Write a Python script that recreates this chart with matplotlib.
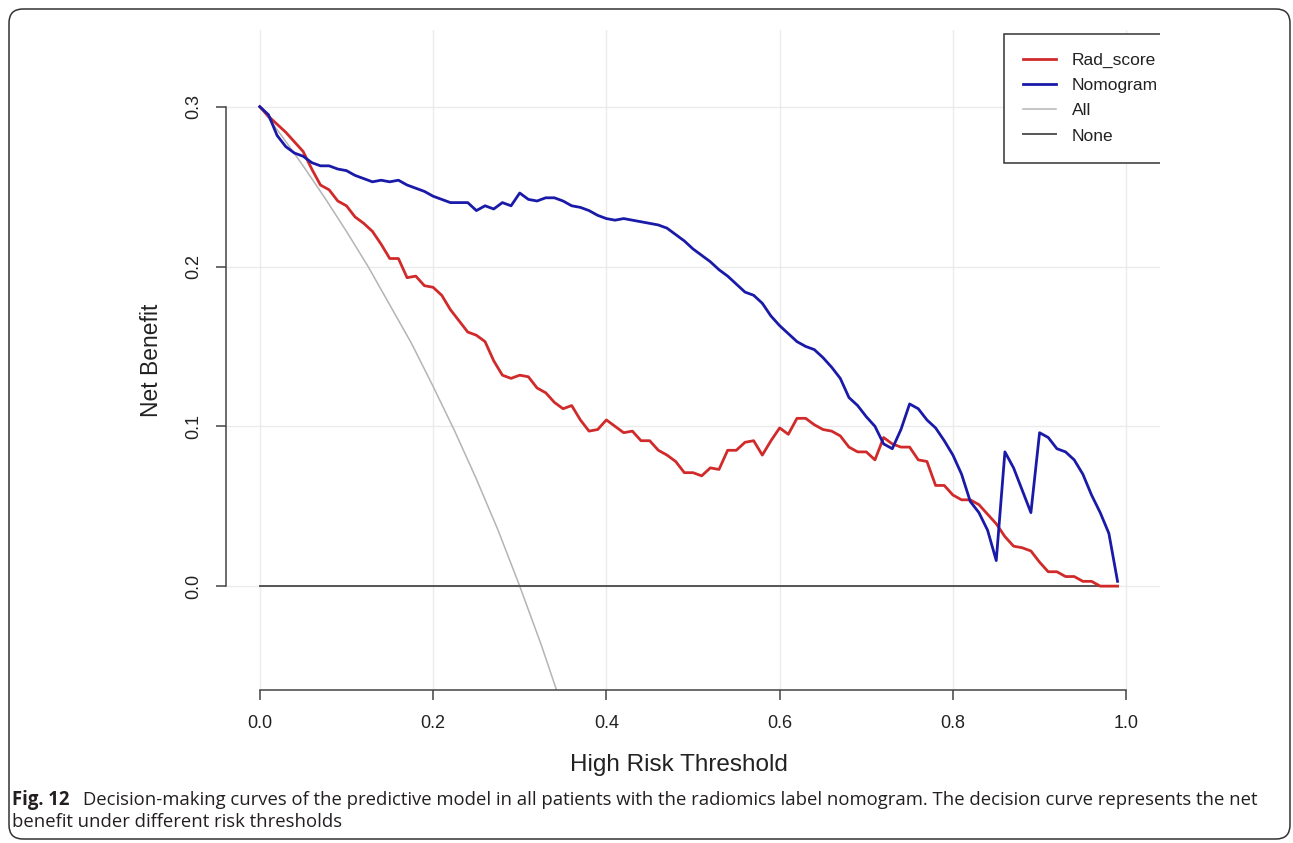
import numpy as np
import matplotlib
matplotlib.use("Agg")
import matplotlib.pyplot as plt
from matplotlib.patches import FancyBboxPatch
from matplotlib.transforms import IdentityTransform

plt.rcParams["font.family"] = ["Liberation Sans", "DejaVu Sans"]

# thresholds 0.00 .. 0.99
thresholds = np.round(np.arange(100) * 0.01, 2)

rad_score = [
    0.300, 0.294, 0.289, 0.284, 0.278, 0.272, 0.261, 0.251, 0.248, 0.241,
    0.238, 0.231, 0.227, 0.222, 0.214, 0.205, 0.205, 0.193, 0.194, 0.188,
    0.187, 0.182, 0.173, 0.166, 0.159, 0.157, 0.153, 0.141, 0.132, 0.130,
    0.132, 0.131, 0.124, 0.121, 0.115, 0.111, 0.113, 0.104, 0.097, 0.098,
    0.104, 0.100, 0.096, 0.097, 0.091, 0.091, 0.085, 0.082, 0.078, 0.071,
    0.071, 0.069, 0.074, 0.073, 0.085, 0.085, 0.090, 0.091, 0.082, 0.091,
    0.099, 0.095, 0.105, 0.105, 0.101, 0.098, 0.097, 0.094, 0.087, 0.084,
    0.084, 0.079, 0.093, 0.089, 0.087, 0.087, 0.079, 0.078, 0.063, 0.063,
    0.057, 0.054, 0.054, 0.051, 0.045, 0.039, 0.031, 0.025, 0.024, 0.022,
    0.015, 0.009, 0.009, 0.006, 0.006, 0.003, 0.003, 0.000, 0.000, 0.000,
]

nomogram = [
    0.300, 0.295, 0.282, 0.275, 0.271, 0.269, 0.265, 0.263, 0.263, 0.261,
    0.260, 0.257, 0.255, 0.253, 0.254, 0.253, 0.254, 0.251, 0.249, 0.247,
    0.244, 0.242, 0.240, 0.240, 0.240, 0.235, 0.238, 0.236, 0.240, 0.238,
    0.246, 0.242, 0.241, 0.243, 0.243, 0.241, 0.238, 0.237, 0.235, 0.232,
    0.230, 0.229, 0.230, 0.229, 0.228, 0.227, 0.226, 0.224, 0.220, 0.216,
    0.211, 0.207, 0.203, 0.198, 0.194, 0.189, 0.184, 0.182, 0.177, 0.169,
    0.163, 0.158, 0.153, 0.150, 0.148, 0.143, 0.137, 0.130, 0.118, 0.113,
    0.106, 0.100, 0.089, 0.086, 0.098, 0.114, 0.111, 0.104, 0.099, 0.091,
    0.082, 0.070, 0.053, 0.046, 0.035, 0.016, 0.084, 0.074, 0.060, 0.046,
    0.096, 0.093, 0.086, 0.084, 0.079, 0.070, 0.057, 0.046, 0.033, 0.003,
]

# "All" curve
all_t = [0.0, 0.025, 0.05, 0.075, 0.1, 0.125, 0.15, 0.175, 0.2, 0.225,
         0.25, 0.275, 0.3, 0.325, 0.35]
all_nb = [0.300, 0.282, 0.263, 0.243, 0.222, 0.200, 0.176, 0.152, 0.125,
          0.097, 0.067, 0.035, 0.000, -0.037, -0.077]

none_t = [0.0, 0.99]
none_nb = [0.0, 0.0]

x_ticks = [0.0, 0.2, 0.4, 0.6, 0.8, 1.0]
y_ticks = [0.0, 0.1, 0.2, 0.3]

W, H = 1293, 843
fig = plt.figure(figsize=(W / 100, H / 100), dpi=100)
ax = fig.add_axes([226 / W, 1 - 690 / H, (1160 - 226) / W, (690 - 30) / H])

ax.set_xlim(-0.039, 1.039)
ax.set_ylim(-0.065, 0.348)

ax.grid(True, color="#ebebeb", linewidth=1.0)
ax.set_axisbelow(True)

ax.plot(all_t, all_nb, color="#b4b4b4", linewidth=1.1, label="All")
ax.plot(none_t, none_nb, color="#555555", linewidth=1.4, label="None")
ax.plot(thresholds, rad_score, color="#d02a2a", linewidth=2.0, label="Rad_score")
ax.plot(thresholds, nomogram, color="#1a1aa8", linewidth=2.0, label="Nomogram")

for s in ["top", "right"]:
    ax.spines[s].set_visible(False)
for s in ["left", "bottom"]:
    ax.spines[s].set_color("#444444")
    ax.spines[s].set_linewidth(1.1)
ax.spines["left"].set_bounds(0, 0.3)
ax.spines["bottom"].set_bounds(0, 1.0)

ax.set_xticks(x_ticks)
ax.set_xticklabels(["%.1f" % v for v in x_ticks])
ax.set_yticks(y_ticks)
ax.set_yticklabels(["%.1f" % v for v in y_ticks], rotation=90, va="center")
ax.tick_params(axis="both", length=7, width=1.1, color="#444444",
               labelsize=13, labelcolor="#222222")
ax.tick_params(axis="x", pad=11)
ax.tick_params(axis="y", pad=10)

fig.text(679 / W, 1 - 765 / H, "High Risk Threshold", ha="center", va="center",
         fontsize=17.5, color="#222222")
fig.text(152 / W, 1 - 360 / H, "Net Benefit", ha="center", va="center",
         rotation=90, fontsize=16.5, color="#222222")

handles, labels = ax.get_legend_handles_labels()
order = [labels.index(n) for n in ["Rad_score", "Nomogram", "All", "None"]]
leg = ax.legend([handles[i] for i in order], [labels[i] for i in order],
                loc="upper left", bbox_to_anchor=(1004 / W, 1 - 34 / H),
                bbox_transform=fig.transFigure, fontsize=12.5, frameon=True,
                fancybox=False, framealpha=1, borderaxespad=0, borderpad=1.1,
                handlelength=1.9, handletextpad=0.9, labelspacing=0.57)
leg.get_frame().set_edgecolor("#333333")
leg.get_frame().set_linewidth(1.1)
leg.get_frame().set_clip_box(ax.bbox)
leg.get_frame().set_clip_on(True)
for t in leg.get_texts():
    t.set_color("#222222")

# caption
cap_font = ["Open Sans", "DejaVu Sans"]
fig.text(12 / W, 1 - 800 / H, "Fig. 12", ha="left", va="center",
         fontsize=13.35, fontweight="bold", family=cap_font, color="#231f20")
fig.text(83 / W, 1 - 800 / H,
         "Decision-making curves of the predictive model in all patients with the "
         "radiomics label nomogram. The decision curve represents the net",
         ha="left", va="center", fontsize=13.35, family=cap_font, color="#231f20")
fig.text(12 / W, 1 - 822 / H, "benefit under different risk thresholds",
         ha="left", va="center", fontsize=13.35, family=cap_font, color="#231f20")

# outer frame
frame = FancyBboxPatch((9, 4), 1281, 830, boxstyle="round,pad=0,rounding_size=14",
                       transform=IdentityTransform(), facecolor="none",
                       edgecolor="#333333", linewidth=1.1)
fig.patches.append(frame)

fig.savefig("out.png", dpi=100)
